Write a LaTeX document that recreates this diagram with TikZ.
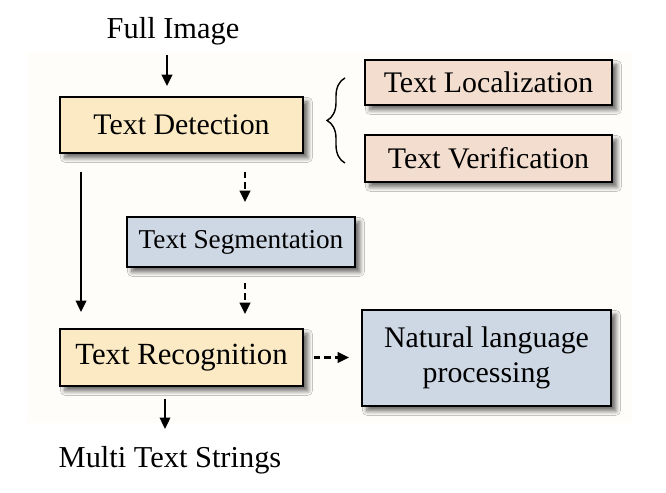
\documentclass[tikz,border=0pt]{standalone}
\usepackage{fontspec}
\setmainfont{Liberation Serif}
\usepackage{tikz}
\usetikzlibrary{calc,arrows.meta,shadows.blur,decorations.pathreplacing}

\definecolor{yellowbox}{RGB}{251,234,196}
\definecolor{pinkbox}{RGB}{242,221,207}
\definecolor{bluebox}{RGB}{206,215,228}
\definecolor{backcream}{RGB}{254,253,250}

\tikzset{
  box/.style={draw=black,line width=1.1pt,minimum height=#1,inner sep=0pt,
    blur shadow={shadow xshift=2.8pt,shadow yshift=-2.8pt,shadow blur steps=8,shadow blur radius=2.5pt,shadow opacity=60},
    font=\fontsize{17}{20}\selectfont,align=center},
  box/.default={1.1cm},
  arr/.style={line width=1.2pt,-{Triangle[length=6.5pt,width=6pt]}},
  darr/.style={arr,dash pattern=on 3.6pt off 2.3pt}
}

\begin{document}
\begin{tikzpicture}
\useasboundingbox (0,0) rectangle (13.32,9.84);
\fill[backcream] (0.54,1.38) rectangle (12.64,8.8);

% Texts
\node[font=\fontsize{17.3}{20}\selectfont] (full) at (3.46,9.22) {Full Image};
\node[font=\fontsize{17.3}{20}\selectfont] (multi) at (3.40,0.64) {Multi Text Strings};

% Boxes
\node[box=1.12cm,fill=yellowbox,minimum width=4.86cm] (det) at (3.63,7.34) {Text Detection};
\node[box=0.9cm,fill=pinkbox,minimum width=4.94cm] (loc) at (9.77,8.19) {Text Localization};
\node[box=0.94cm,fill=pinkbox,minimum width=4.94cm] (ver) at (9.77,6.67) {Text Verification};
\node[box=1.0cm,fill=bluebox,minimum width=4.56cm,font=\fontsize{15.5}{18}\selectfont] (seg) at (4.82,5.0) {Text Segmentation};
\node[box=1.14cm,fill=yellowbox,minimum width=4.86cm,font=\fontsize{17.5}{20}\selectfont] (rec) at (3.63,2.69) {Text Recognition};
\node[box=1.92cm,fill=bluebox,minimum width=4.98cm] (nlp) at (9.73,2.68) {Natural language\\processing};

% Brace
\coordinate (bbot) at (6.9,6.58);
\coordinate (btop) at (6.9,8.28);
\draw[line width=0.8pt,decorate,decoration={brace,amplitude=0.36cm}] (bbot) -- (btop);

% Arrows
\draw[arr,shorten <=0.08cm,shorten >=0.2cm] ([xshift=-0.12cm]full.south) -- ([xshift=-0.12cm]full.south |- det.north);
\draw[arr,shorten <=0.36cm,shorten >=0.32cm] ([xshift=0.44cm]det.south west) -- ([xshift=0.44cm]rec.north west);
\draw[darr,shorten <=0.36cm,shorten >=0.28cm] ([xshift=0.08cm]det.south -| seg.north) -- ([xshift=0.08cm]seg.north);
\draw[darr,shorten <=0.3cm,shorten >=0.28cm] ([xshift=0.08cm]seg.south) -- ([xshift=0.08cm]seg.south |- rec.north);
\draw[darr,shorten <=0.2cm,shorten >=0.24cm] (rec.east) -- (rec.east -| nlp.west);
\draw[arr,shorten <=0.24cm,shorten >=0.22cm] ([xshift=-0.1cm]rec.south -| multi.north) -- ([xshift=-0.1cm]multi.north);
\end{tikzpicture}
\end{document}
